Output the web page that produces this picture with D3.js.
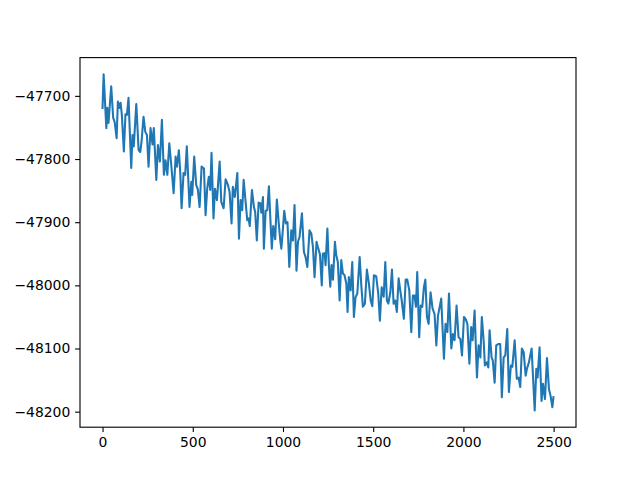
<!DOCTYPE html>
<html>
<head>
<meta charset="utf-8">
<script src="https://cdn.jsdelivr.net/npm/d3@7"></script>
<style>
  body { margin: 0; background: #fff; }
  text { font-family: "DejaVu Sans", sans-serif; }
</style>
</head>
<body>
<div id="chart"></div>
<script>
// step index of each sampled vertex
var steps = [0,6,21,26,33,48,59,67,78,85,94,100,107,118,127,135,144,150,159,166,173,187,200,209,216,227,237,246,255,266,277,284,298,307,318,329,340,349,359,370,
  381,394,405,412,423,431,438,449,458,467,477,482,492,497,508,519,528,538,549,562,571,580,589,597,604,615,623,634,649,658,671,682,695,704,715,722,733,747,756,765,774,782,
  802,809,816,828,839,846,855,865,874,880,889,894,904,913,922,931,938,946,957,966,976,985,991,999,1007,1016,1025,1035,1046,1055,1064,1075,1083,1092,1105,1116,1125,1135,1147,1157,1166,1175,1186,1193,1205,
  1215,1221,1231,1236,1246,1254,1262,1269,1277,1288,1295,1304,1314,1323,1332,1341,1351,1358,1365,1375,1384,1393,1402,1412,1425,1434,1443,1454,1465,1476,1486,1495,1504,1517,1528,1537,1547,1558,1567,1576,1584,1595,1604,1613,1622,1631,
  1641,1650,1659,1670,1680,1689,1700,1711,1720,1729,1737,1744,1755,1763,1772,1781,1789,1798,1807,1818,1829,1840,1850,1859,1870,1877,1892,1901,1911,1920,1933,1942,1951,1962,1973,1983,1992,2003,2012,2022,2033,
  2043,2051,2062,2075,2084,2094,2102,2112,2119,2130,2138,2145,2156,2163,2173,2182,2193,2204,2213,2223,2232,2243,2252,2263,2271,2284,2296,2306,2315,2324,2334,2345,2352,2363,2378,2395,2404,2411,2422,2433,2441,2452,2463,2474,2483,2493,2499];

// value at each step
var values = [-47719,-47666,-47751,-47719,-47743,-47685,-47735,-47741,-47767,-47709,-47719,-47711,-47730,-47788,-47729,-47730,-47703,-47749,-47814,-47762,-47780,-47713,-47786,-47789,-47773,-47733,-47757,-47762,-47812,-47751,-47777,-47751,-47833,-47778,-47804,-47738,-47825,-47802,-47825,-47775,
  -47810,-47854,-47796,-47812,-47786,-47823,-47878,-47822,-47825,-47780,-47844,-47876,-47836,-47857,-47796,-47841,-47848,-47876,-47812,-47815,-47889,-47847,-47828,-47849,-47790,-47894,-47847,-47865,-47804,-47868,-47878,-47832,-47841,-47852,-47902,-47844,-47860,-47822,-47926,-47865,-47881,-47833,
  -47897,-47894,-47906,-47849,-47876,-47884,-47929,-47869,-47870,-47885,-47860,-47942,-47882,-47881,-47843,-47900,-47942,-47906,-47927,-47864,-47900,-47929,-47942,-47913,-47882,-47902,-47900,-47971,-47913,-47929,-47873,-47977,-47931,-47923,-47886,-47947,-47955,-47971,-47913,-47918,-47939,-47987,-47931,-47939,-47951,
  -48000,-47950,-47949,-47968,-47910,-47966,-48002,-47968,-47991,-47931,-47952,-47963,-48024,-47960,-47981,-47984,-47997,-48042,-47987,-48008,-47963,-48050,-48019,-48013,-47955,-48000,-48034,-48029,-47975,-47997,-48024,-48033,-47984,-47986,-48013,-48056,-48003,-48018,-47963,-48024,-48029,-48011,-47975,-48029,-48024,-48042,
  -47989,-48008,-48026,-48053,-47991,-47991,-48008,-48074,-48016,-48016,-48034,-47979,-48082,-48032,-48034,-48003,-47991,-48050,-48061,-48011,-48037,-48045,-48095,-48048,-48032,-48021,-48116,-48061,-48074,-48013,-48100,-48077,-48087,-48032,-48082,-48085,-48111,-48050,-48053,-48061,-48124,
  -48066,-48087,-48040,-48146,-48095,-48114,-48050,-48087,-48127,-48122,-48130,-48071,-48114,-48119,-48154,-48095,-48093,-48093,-48177,-48114,-48111,-48069,-48169,-48127,-48129,-48087,-48148,-48146,-48161,-48100,-48106,-48143,-48132,-48122,-48100,-48198,-48132,-48146,-48098,-48183,-48156,-48180,-48115,-48164,-48175,-48193,-48177];

var xTicks = [0, 500, 1000, 1500, 2000, 2500];
var yTicks = [-47700, -47800, -47900, -48000, -48100, -48200];

var W = 640, H = 480;
var mLeft = 80, mRight = 576, mTop = 57.6, mBottom = 427.2;

var svg = d3.select("#chart").append("svg")
    .attr("width", W)
    .attr("height", H);

var n = Math.min(steps.length, values.length);
var data = steps.slice(0, n).map(function(s, i) { return { x: s, y: values[i] }; });

// matplotlib style 5% margins
var xmin = d3.min(data, function(d) { return d.x; }), xmax = d3.max(data, function(d) { return d.x; });
var ymin = d3.min(data, function(d) { return d.y; }), ymax = d3.max(data, function(d) { return d.y; });
var xpad = (xmax - xmin) * 0.05, ypad = (ymax - ymin) * 0.05;

var x = d3.scaleLinear().domain([xmin - xpad, xmax + xpad]).range([mLeft, mRight]);
var y = d3.scaleLinear().domain([ymin - ypad, ymax + ypad]).range([mBottom, mTop]);

var fmt = function(d) { return String(d).replace("-", "\u2212"); };

var line = d3.line()
    .x(function(d) { return x(d.x); })
    .y(function(d) { return y(d.y); });

svg.append("defs").append("clipPath").attr("id", "clip")
  .append("rect")
    .attr("x", mLeft).attr("y", mTop)
    .attr("width", mRight - mLeft).attr("height", mBottom - mTop);

svg.append("path")
    .datum(data)
    .attr("clip-path", "url(#clip)")
    .attr("d", line)
    .style("fill", "none")
    .style("stroke", "#1f77b4")
    .style("stroke-width", 2.08)
    .style("stroke-linejoin", "round")
    .style("stroke-linecap", "square");

var xAxis = svg.append("g")
    .attr("transform", "translate(0," + mBottom + ")")
    .call(d3.axisBottom(x).tickValues(xTicks).tickFormat(fmt).tickSize(4.86).tickPadding(4.9));

var yAxis = svg.append("g")
    .attr("transform", "translate(" + mLeft + ",0)")
    .call(d3.axisLeft(y).tickValues(yTicks).tickFormat(fmt).tickSize(4.86).tickPadding(4.9));

[xAxis, yAxis].forEach(function(g) {
    g.select(".domain").remove();
    g.selectAll(".tick line").style("stroke", "#000").style("stroke-width", 1.11);
    g.selectAll("text")
        .style("font-family", "'DejaVu Sans', sans-serif")
        .style("font-size", "13.9px")
        .style("fill", "#000");
});

// axes frame
svg.append("rect")
    .attr("x", mLeft).attr("y", mTop)
    .attr("width", mRight - mLeft).attr("height", mBottom - mTop)
    .style("fill", "none")
    .style("stroke", "#000")
    .style("stroke-width", 1.11);
</script>
</body>
</html>
